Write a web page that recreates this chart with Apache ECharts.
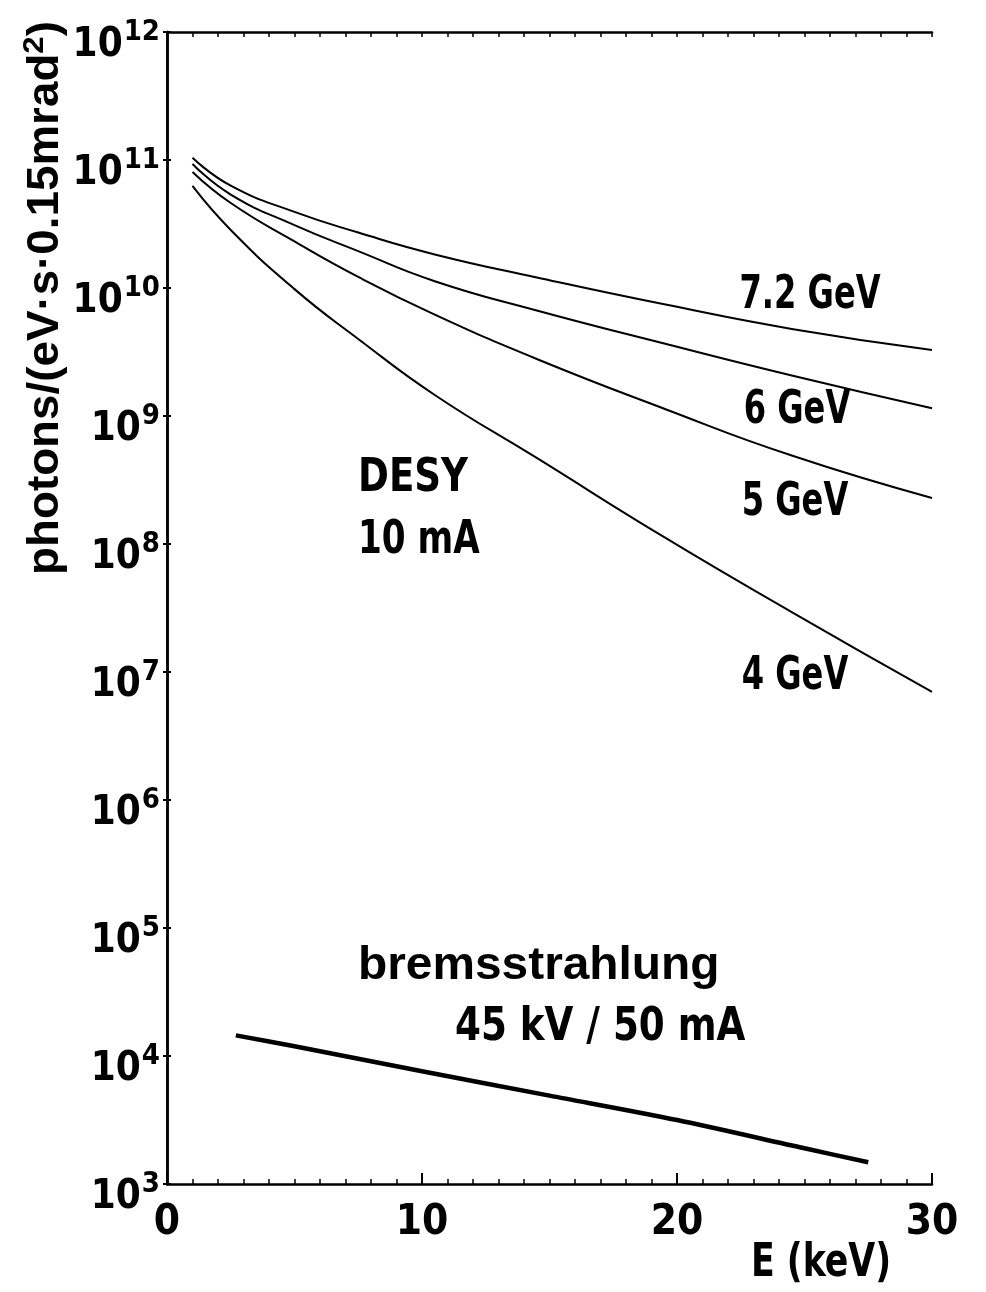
<!DOCTYPE html>
<html><head><meta charset="utf-8">
<script src="https://cdn.jsdelivr.net/npm/echarts@6/dist/echarts.min.js"></script>
<style>html,body{margin:0;padding:0;background:#fff}#c{width:986px;height:1292px}</style>
</head><body><div id="c"></div>
<script>
// Values (photons per eV·s·0.15 mrad², log scale)
const energies = [1, 2.5, 5, 7.5, 10.5, 14.5, 19.5, 24.5, 30];
const flux72GeV = [1.04e11, 6.3e10, 3.93e10, 2.71e10, 1.83e10, 1.21e10, 7.46e9, 4.79e9, 3.28e9];
const flux6GeV  = [9.3e10, 5.37e10, 3.10e10, 1.94e10, 1.13e10, 6.67e9, 3.68e9, 2.07e9, 1.15e9];
const flux5GeV  = [8.05e10, 4.61e10, 2.31e10, 1.22e10, 6.2e9, 2.79e9, 1.14e9, 4.91e8, 2.29e8];
const flux4GeV  = [6.27e10, 2.84e10, 9.8e9, 4.0e9, 1.46e9, 4.70e8, 1.13e8, 2.94e7, 6.98e6];
const bremsEnergies = [2.7, 5, 10, 15, 20, 25, 27.5];
const bremsFlux = [1.45e4, 1.19e4, 7.6e3, 4.9e3, 3.16e3, 1.9e3, 1.48e3];
const xTickLabels = [0, 10, 20, 30];
const yExponents = [3, 4, 5, 6, 7, 8, 9, 10, 11, 12];

const COND = '"DejaVu Sans Condensed", "DejaVu Sans", sans-serif';
const REG = '"Liberation Sans", Arial, sans-serif';

function pairs(xs, ys) { return xs.map((x, i) => [x, ys[i]]); }

const chart = echarts.init(document.getElementById('c'), null, { renderer: 'canvas' });

const axisLine = { show: true, lineStyle: { color: '#000', width: 2.5 } };
const curveStyle = { color: '#000', width: 2 };

const option = {
  backgroundColor: '#fff',
  animation: false,
  grid: { left: 167, right: 54, top: 32, bottom: 108, containLabel: false },
  xAxis: [
    {
      type: 'value', position: 'bottom', min: xTickLabels[0], max: xTickLabels[xTickLabels.length - 1], interval: 10,
      axisLine,
      axisTick: { show: true, inside: true, length: 11, lineStyle: { color: '#000', width: 2 } },
      minorTick: { show: true, splitNumber: 10, length: 5, lineStyle: { color: '#000', width: 1.5 } },
      splitLine: { show: false },
      axisLabel: { show: true, margin: 18, color: '#000', fontSize: 42, fontFamily: COND, fontWeight: 'bold' }
    },
    {
      type: 'value', position: 'top', min: 0, max: 30, interval: 10,
      axisLine,
      axisTick: { show: true, inside: true, length: 5, lineStyle: { color: '#000', width: 1.5 } },
      minorTick: { show: true, splitNumber: 10, length: 5, lineStyle: { color: '#000', width: 1.5 } },
      splitLine: { show: false },
      axisLabel: { show: false }
    }
  ],
  yAxis: [
    {
      type: 'log', logBase: 10, position: 'left',
      min: Math.pow(10, yExponents[0]), max: Math.pow(10, yExponents[yExponents.length - 1]), interval: 1,
      axisLine,
      axisTick: { show: true, inside: true, length: 4, lineStyle: { color: '#000', width: 2 } },
      splitLine: { show: false },
      axisLabel: {
        show: true, margin: 7, padding: [28, 0, 0, 0],
        formatter: function (v) { return '{b|10}{s|' + Math.round(Math.log10(v)) + '}'; },
        rich: {
          b: { fontSize: 40, fontFamily: COND, fontWeight: 'bold', color: '#000', lineHeight: 40, verticalAlign: 'bottom' },
          s: { fontSize: 29, fontFamily: COND, fontWeight: 'bold', color: '#000', lineHeight: 29, padding: [0, 0, 27, 1] }
        }
      }
    },
    {
      type: 'log', logBase: 10, position: 'right',
      min: 1e3, max: 1e12, interval: 1,
      axisLine,
      axisTick: { show: true, inside: true, length: 4, lineStyle: { color: '#000', width: 2 } },
      splitLine: { show: false },
      axisLabel: { show: false }
    }
  ],
  series: [
    { name: '7.2 GeV', type: 'line', data: pairs(energies, flux72GeV), smooth: 0.5, showSymbol: false, lineStyle: curveStyle },
    { name: '6 GeV', type: 'line', data: pairs(energies, flux6GeV), smooth: 0.5, showSymbol: false, lineStyle: curveStyle },
    { name: '5 GeV', type: 'line', data: pairs(energies, flux5GeV), smooth: 0.5, showSymbol: false, lineStyle: curveStyle },
    { name: '4 GeV', type: 'line', data: pairs(energies, flux4GeV), smooth: 0.5, showSymbol: false, lineStyle: curveStyle },
    { name: 'bremsstrahlung', type: 'line', data: pairs(bremsEnergies, bremsFlux), smooth: 0.3, showSymbol: false, lineStyle: { color: '#000', width: 4.5 } }
  ],
  graphic: [
    { type: 'text', x: 46, y: 298, rotation: Math.PI / 2, scaleX: 1.04,
      style: { text: '{t|photons/(eV·s·0.15mrad}{p|2}{t|)}', align: 'center', verticalAlign: 'middle',
        rich: {
          t: { fontSize: 44, fontFamily: REG, fontWeight: 'bold', fill: '#000', lineHeight: 44, verticalAlign: 'bottom' },
          p: { fontSize: 30, fontFamily: REG, fontWeight: 'bold', fill: '#000', lineHeight: 30, padding: [0, 0, 22, 0] }
        } } },
    { type: 'text', x: 810, y: 296, scaleX: 0.76, style: { text: '7.2 GeV', font: 'bold 47px ' + COND, fill: '#000', align: 'center', verticalAlign: 'middle' } },
    { type: 'text', x: 797, y: 411, scaleX: 0.76, style: { text: '6 GeV', font: 'bold 47px ' + COND, fill: '#000', align: 'center', verticalAlign: 'middle' } },
    { type: 'text', x: 795, y: 503, scaleX: 0.76, style: { text: '5 GeV', font: 'bold 47px ' + COND, fill: '#000', align: 'center', verticalAlign: 'middle' } },
    { type: 'text', x: 795, y: 677, scaleX: 0.76, style: { text: '4 GeV', font: 'bold 47px ' + COND, fill: '#000', align: 'center', verticalAlign: 'middle' } },
    { type: 'text', x: 358, y: 479, scaleX: 0.88, style: { text: 'DESY', font: 'bold 47px ' + COND, fill: '#000', align: 'left', verticalAlign: 'middle' } },
    { type: 'text', x: 358, y: 541, scaleX: 0.81, style: { text: '10 mA', font: 'bold 47px ' + COND, fill: '#000', align: 'left', verticalAlign: 'middle' } },
    { type: 'text', x: 358, y: 966, scaleX: 1.04, style: { text: 'bremsstrahlung', font: 'bold 46px ' + REG, fill: '#000', align: 'left', verticalAlign: 'middle' } },
    { type: 'text', x: 455, y: 1028, scaleX: 0.9, style: { text: '45 kV / 50 mA', font: 'bold 46px ' + COND, fill: '#000', align: 'left', verticalAlign: 'middle' } },
    { type: 'text', x: 821, y: 1264, scaleX: 0.84, style: { text: 'E (keV)', font: 'bold 46px ' + COND, fill: '#000', align: 'center', verticalAlign: 'middle' } }
  ]
};
chart.setOption(option);
</script></body></html>
